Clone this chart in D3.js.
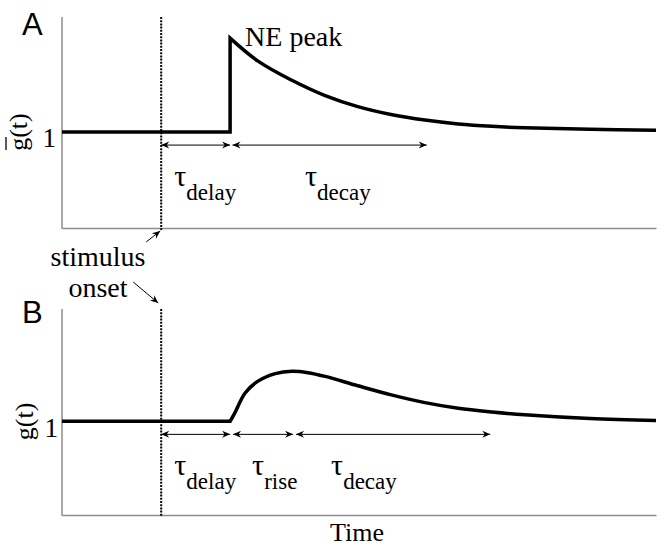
<!DOCTYPE html>
<meta charset="utf-8">
<style>
body { margin: 0; background: #fff; }

.axis path { stroke: #8c8c8c; stroke-width: 1.5px; }

.trace {
  fill: none;
  stroke: #000;
  stroke-width: 3.5px;
  stroke-linejoin: miter;
}

.onset {
  stroke: #000;
  stroke-width: 2px;
  stroke-dasharray: 2,1.2;
}

.span { stroke: #000; stroke-width: 1px; }

.serif { font-family: "Liberation Serif", "Times New Roman", serif; fill: #000; }
.panel { font: 31px "Liberation Sans", Arial, sans-serif; fill: #000; }
</style>
<body>
<script src="https://d3js.org/d3.v7.min.js"></script>
<script>

// time in arbitrary units 0..100, g relative to baseline (1)
var onsetT = 16.7;

// panel A: instant jump to the NE peak, then decays back
var aTime = [0, 28.3, 28.3, 33.0, 38.7, 44.3, 49.8, 55.6, 61.1, 66.7, 72.4, 77.9, 88.9, 100];
var aG    = [1, 1,    1.98, 1.74, 1.54, 1.38, 1.265, 1.18, 1.125, 1.085, 1.06, 1.045, 1.03, 1.02];

// panel B: smooth rise, then decay
var bTime = [0, 28.3, 29.1, 30.8, 33.0, 35.9, 38.7, 41.4, 44.3, 49.8, 55.6, 61.1, 66.7, 72.4, 77.9, 88.9, 100];
var bG    = [1, 1,    1.09, 1.30, 1.43, 1.51, 1.535, 1.52, 1.48, 1.38, 1.28, 1.20, 1.14, 1.10, 1.07, 1.03, 1.01];

// double arrows under the trace (start, end in time units) + their tau labels
var aSpans  = [[16.7, 28.3], [28.7, 61.4]];
var aLabels = ["delay", "decay"];
var aLabelT = [18.9, 40.9];

var bSpans  = [[16.7, 28.3], [28.8, 38.9], [39.4, 72.1]];
var bLabels = ["delay", "rise", "decay"];
var bLabelT = [18.9, 32.0, 45.3];

var yTicks = [1];

var width = 663, height = 549;
var left = 62, right = 656;

var svg = d3.select("body").append("svg")
    .attr("width", width)
    .attr("height", height);

var defs = svg.append("defs");
defs.append("marker")
    .attr("id", "head")
    .attr("viewBox", "-9 -5 10 10")
    .attr("refX", 0).attr("refY", 0)
    .attr("markerWidth", 10).attr("markerHeight", 10)
    .attr("markerUnits", "userSpaceOnUse")
    .attr("orient", "auto-start-reverse")
  .append("path")
    .attr("d", "M0,0L-8,-3.5L-5.5,0L-8,3.5Z")
    .attr("fill", "#000");

var x = d3.scaleLinear().domain([0, 100]).range([left, right]);

function panel(top, bottom, times, gs, split, spans, labels, labelT, opts) {
  var y = d3.scaleLinear().domain([0, 2.2]).range([bottom, top]);
  var g = svg.append("g");

  // axes: just the two lines plus the "1" mark
  g.append("g")
      .attr("class", "axis")
      .attr("transform", "translate(0," + bottom + ")")
      .call(d3.axisBottom(x).tickValues([]).tickSizeOuter(0));

  var ya = g.append("g")
      .attr("class", "axis")
      .attr("transform", "translate(" + left + ",0)")
      .call(d3.axisLeft(y).tickValues(yTicks).tickFormat(d3.format("d"))
        .tickSize(0).tickSizeOuter(0).tickPadding(opts.pad));
  ya.select(".domain").attr("d", "M0," + (bottom + 1) + "V" + top);
  ya.selectAll(".tick text")
      .attr("dy", "0.55em")
      .style("font-family", "'Liberation Serif', 'Times New Roman', serif")
      .style("font-size", "27px")
      .style("fill", "#000");

  // stimulus onset
  g.append("line")
      .attr("class", "onset")
      .attr("x1", x(onsetT)).attr("x2", x(onsetT))
      .attr("y1", top).attr("y2", bottom + 2);

  // trace: straight part (linear) glued to the smooth part
  var pts = times.map(function(t, i) { return [x(t), y(gs[i])]; });
  var straight = d3.line()(pts.slice(0, split + 1));
  var smooth = d3.line().curve(d3.curveCatmullRom.alpha(0.5))(pts.slice(split));
  g.append("path")
      .attr("class", "trace")
      .attr("d", straight + smooth.replace(/^M/, "L"));

  // interval arrows
  var ay = y(1) + 13;
  g.selectAll(".span")
      .data(spans)
    .enter().append("line")
      .attr("class", "span")
      .attr("x1", function(d) { return x(d[0]); })
      .attr("x2", function(d) { return x(d[1]); })
      .attr("y1", ay).attr("y2", ay)
      .attr("marker-start", "url(#head)")
      .attr("marker-end", "url(#head)");

  var tau = g.selectAll(".tau")
      .data(labels)
    .enter().append("text")
      .attr("class", "serif tau")
      .attr("x", function(d, i) { return x(labelT[i]); })
      .attr("y", ay + 41)
      .style("font-size", "30px");
  tau.append("tspan").text("\u03C4");
  tau.append("tspan")
      .attr("dy", 14)
      .style("font-size", "23px")
      .text(function(d) { return d; });

  // y label g(t), rotated
  var yl = g.append("g")
      .attr("transform", "translate(" + opts.labX + "," + y(1) + ") rotate(-90)");
  yl.append("text")
      .attr("class", "serif")
      .attr("text-anchor", "middle")
      .style("font-size", "26px")
      .text("g(t)");
  if (opts.bar) {
    yl.append("line")
        .attr("x1", -18).attr("x2", -5)
        .attr("y1", -21).attr("y2", -21)
        .attr("stroke", "#000").attr("stroke-width", 1.3);
  }

  g.append("text")
      .attr("class", "panel")
      .attr("x", 22).attr("y", opts.letterY)
      .text(opts.letter);

  return y;
}

var yA = panel(17, 228, aTime, aG, 2, aSpans, aLabels, aLabelT,
  {letter: "A", letterY: 35, labX: 27, bar: true, pad: 6});
var yB = panel(309, 515, bTime, bG, 1, bSpans, bLabels, bLabelT,
  {letter: "B", letterY: 323, labX: 33, bar: false, pad: 4});

// NE peak label next to the spike
svg.append("text")
    .attr("class", "serif")
    .attr("x", x(aTime[2]) + 15)
    .attr("y", yA(aG[2]) + 8)
    .style("font-size", "28px")
    .text("NE peak");

// stimulus onset annotation between the panels
var xo = x(onsetT);
svg.append("text")
    .attr("class", "serif")
    .attr("text-anchor", "middle")
    .attr("x", 98).attr("y", 266)
    .style("font-size", "28px")
    .text("stimulus");
svg.append("text")
    .attr("class", "serif")
    .attr("text-anchor", "middle")
    .attr("x", 98).attr("y", 297)
    .style("font-size", "28px")
    .text("onset");

svg.append("line")
    .attr("class", "span")
    .attr("x1", xo - 15).attr("y1", 242)
    .attr("x2", xo - 1).attr("y2", 231)
    .attr("marker-end", "url(#head)");
svg.append("line")
    .attr("class", "span")
    .attr("x1", xo - 28).attr("y1", 282)
    .attr("x2", xo - 3).attr("y2", 303)
    .attr("marker-end", "url(#head)");

svg.append("text")
    .attr("class", "serif")
    .attr("text-anchor", "middle")
    .attr("x", 357).attr("y", 541)
    .style("font-size", "26px")
    .text("Time");

</script>
</body>
